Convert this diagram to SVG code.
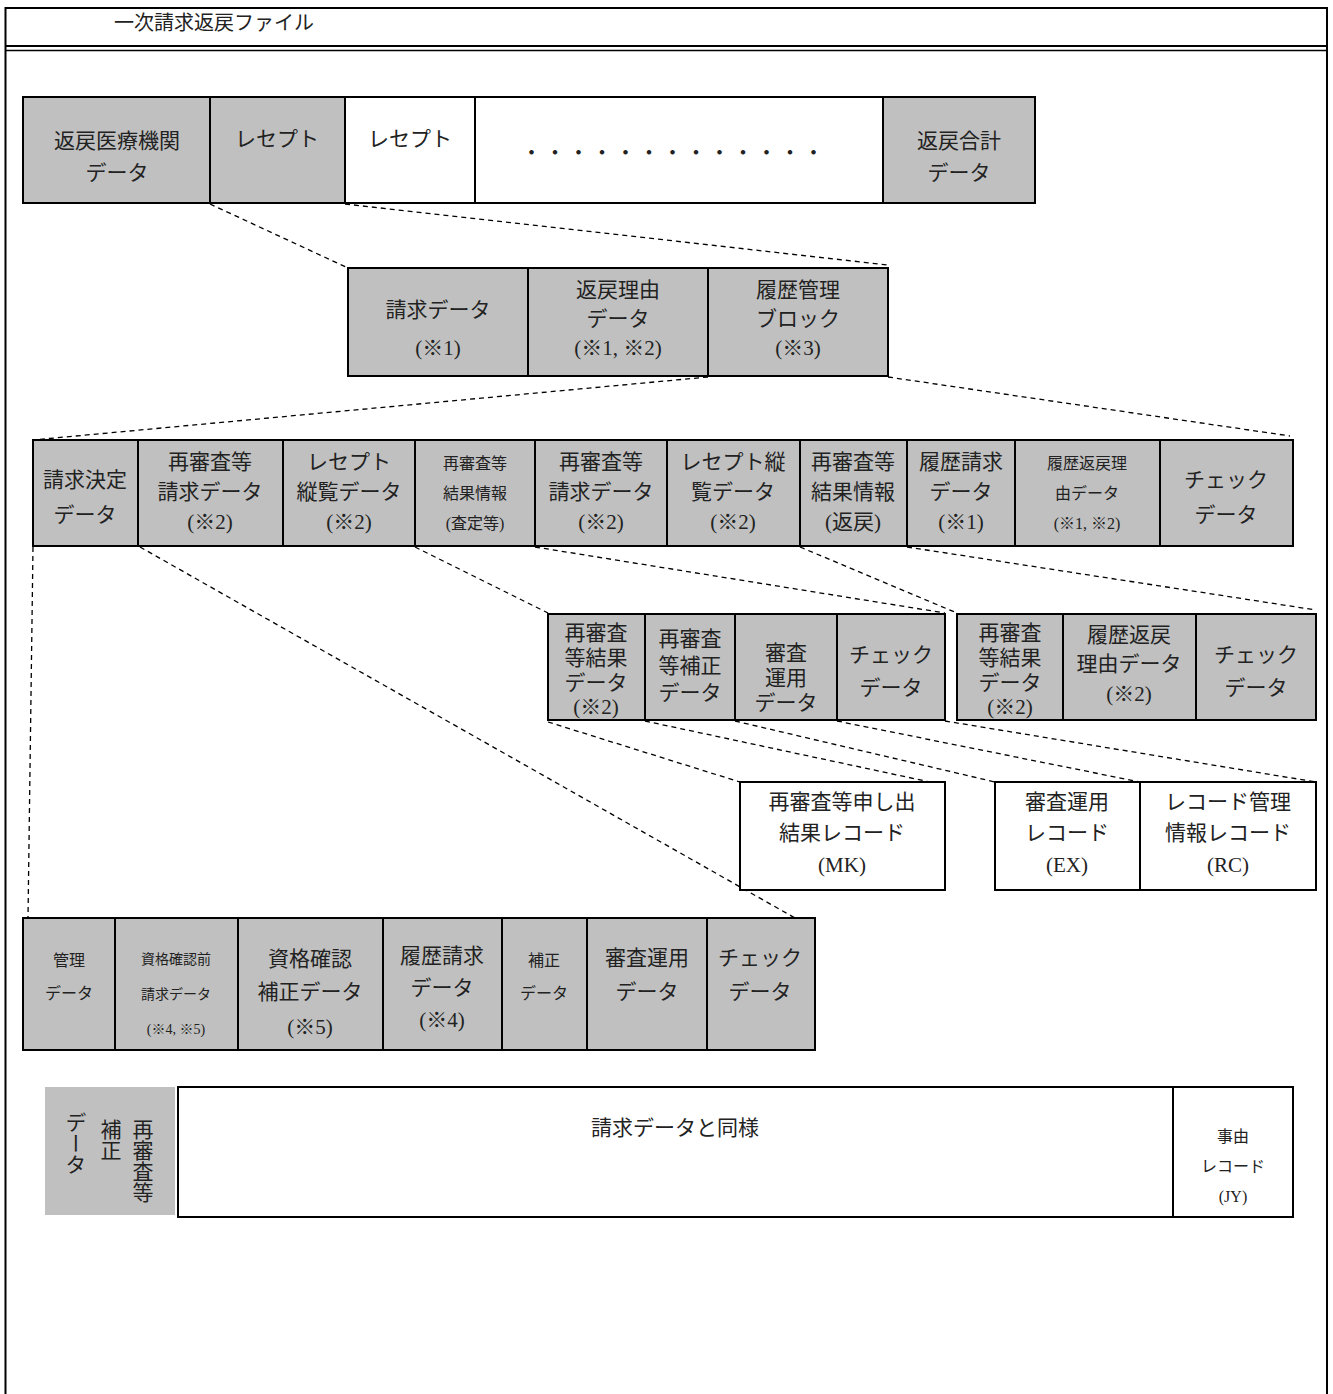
<svg xmlns="http://www.w3.org/2000/svg" width="1333" height="1394" viewBox="0 0 1333 1394">
<style>
.g{fill:#c0c0c0;stroke:#000;stroke-width:2}
.w{fill:#fff;stroke:#000;stroke-width:2}
.t{font-family:"Liberation Serif","Noto Sans CJK JP",serif;font-size:21px;fill:#222;text-anchor:middle}
.s{font-size:16px}
.xs{font-size:14px}
.c{fill:none;stroke:#000;stroke-width:1.3;stroke-dasharray:5,4}
.v{writing-mode:vertical-rl;text-anchor:start}
</style>
<rect width="1333" height="1394" fill="#fff"/>
<g id="frame">
<path d="M5.5,1400 V8 H1327 V1400" fill="none" stroke="#000" stroke-width="2"/>
<line x1="5" y1="46" x2="1327" y2="46" stroke="#000" stroke-width="2"/>
<line x1="5" y1="50.5" x2="1327" y2="50.5" stroke="#000" stroke-width="1.5"/>
<text class="t" x="214" y="30" style="font-size:20px">一次請求返戻ファイル</text>
</g>
<g id="connectors">
<line class="c" x1="210" y1="204" x2="348" y2="268"/>
<line class="c" x1="345" y1="204" x2="888" y2="265"/>
<line class="c" x1="708" y1="377" x2="33" y2="440"/>
<line class="c" x1="888" y1="377" x2="1290" y2="436"/>
<line class="c" x1="33" y1="547" x2="28" y2="918"/>
<line class="c" x1="140" y1="547" x2="795" y2="918"/>
<line class="c" x1="415" y1="547" x2="548" y2="613"/>
<line class="c" x1="535" y1="547" x2="945" y2="613"/>
<line class="c" x1="800" y1="547" x2="957" y2="613"/>
<line class="c" x1="907" y1="547" x2="1316" y2="610"/>
<line class="c" x1="548" y1="722" x2="740" y2="782"/>
<line class="c" x1="645" y1="721" x2="930" y2="782"/>
<line class="c" x1="735" y1="721" x2="995" y2="782"/>
<line class="c" x1="837" y1="721" x2="1140" y2="782"/>
<line class="c" x1="945" y1="721" x2="1316" y2="782"/>
</g>
<g id="row1">
<g id="n-hmed"><rect class="g" x="23" y="97" width="187" height="106"/><text class="t" x="117" y="148">返戻医療機関</text><text class="t" x="117" y="180">データ</text></g>
<g id="n-rece1"><rect class="g" x="210" y="97" width="135" height="106"/><text class="t" x="277" y="146">レセプト</text></g>
<g id="n-rece2"><rect class="w" x="345" y="97" width="130" height="106"/><text class="t" x="410" y="146">レセプト</text></g>
<g id="n-dots"><rect class="w" x="475" y="97" width="408" height="106"/><text class="t" x="521" y="160" style="text-anchor:start;letter-spacing:2.5px">・・・・・・・・・・・・・</text></g>
<g id="n-hgokei"><rect class="g" x="883" y="97" width="152" height="106"/><text class="t" x="959" y="148">返戻合計</text><text class="t" x="959" y="180">データ</text></g>
</g>
<g id="row2">
<g id="n-seikyu"><rect class="g" x="348" y="268" width="180" height="108"/><text class="t" x="438" y="317">請求データ</text><text class="t" x="438" y="355">(※1)</text></g>
<g id="n-henriyu"><rect class="g" x="528" y="268" width="180" height="108"/><text class="t" x="618" y="297">返戻理由</text><text class="t" x="618" y="326">データ</text><text class="t" x="618" y="355">(※1, ※2)</text></g>
<g id="n-rireki"><rect class="g" x="708" y="268" width="180" height="108"/><text class="t" x="798" y="297">履歴管理</text><text class="t" x="798" y="326">ブロック</text><text class="t" x="798" y="355">(※3)</text></g>
</g>
<g id="row3">
<g id="n-kettei"><rect class="g" x="33" y="440" width="105" height="106"/><text class="t" x="85" y="487">請求決定</text><text class="t" x="85" y="522">データ</text></g>
<g id="n-sai1"><rect class="g" x="138" y="440" width="145" height="106"/><text class="t" x="210" y="469">再審査等</text><text class="t" x="210" y="499">請求データ</text><text class="t" x="210" y="529">(※2)</text></g>
<g id="n-jukan1"><rect class="g" x="283" y="440" width="132" height="106"/><text class="t" x="349" y="469">レセプト</text><text class="t" x="349" y="499">縦覧データ</text><text class="t" x="349" y="529">(※2)</text></g>
<g id="n-kekka1"><rect class="g" x="415" y="440" width="120" height="106"/><text class="t s" x="475" y="469">再審査等</text><text class="t s" x="475" y="499">結果情報</text><text class="t s" x="475" y="529">(査定等)</text></g>
<g id="n-sai2"><rect class="g" x="535" y="440" width="132" height="106"/><text class="t" x="601" y="469">再審査等</text><text class="t" x="601" y="499">請求データ</text><text class="t" x="601" y="529">(※2)</text></g>
<g id="n-jukan2"><rect class="g" x="667" y="440" width="133" height="106"/><text class="t" x="733" y="469">レセプト縦</text><text class="t" x="733" y="499">覧データ</text><text class="t" x="733" y="529">(※2)</text></g>
<g id="n-kekka2"><rect class="g" x="800" y="440" width="107" height="106"/><text class="t" x="853" y="469">再審査等</text><text class="t" x="853" y="499">結果情報</text><text class="t" x="853" y="529">(返戻)</text></g>
<g id="n-rseikyu"><rect class="g" x="907" y="440" width="108" height="106"/><text class="t" x="961" y="469">履歴請求</text><text class="t" x="961" y="499">データ</text><text class="t" x="961" y="529">(※1)</text></g>
<g id="n-rhenriyu"><rect class="g" x="1015" y="440" width="145" height="106"/><text class="t s" x="1087" y="469">履歴返戻理</text><text class="t s" x="1087" y="499">由データ</text><text class="t s" x="1087" y="529">(※1, ※2)</text></g>
<g id="n-check1"><rect class="g" x="1160" y="440" width="133" height="106"/><text class="t" x="1226" y="487">チェック</text><text class="t" x="1226" y="522">データ</text></g>
</g>
<g id="row4a">
<g id="n-kekkad1"><rect class="g" x="548" y="614" width="97" height="106"/><text class="t" x="596" y="640">再審査</text><text class="t" x="596" y="665">等結果</text><text class="t" x="596" y="690">データ</text><text class="t" x="596" y="714">(※2)</text></g>
<g id="n-hosei1"><rect class="g" x="645" y="614" width="90" height="106"/><text class="t" x="690" y="646">再審査</text><text class="t" x="690" y="673">等補正</text><text class="t" x="690" y="700">データ</text></g>
<g id="n-unyo1"><rect class="g" x="735" y="614" width="102" height="106"/><text class="t" x="786" y="660">審査</text><text class="t" x="786" y="685">運用</text><text class="t" x="786" y="710">データ</text></g>
<g id="n-check2"><rect class="g" x="837" y="614" width="108" height="106"/><text class="t" x="891" y="662">チェック</text><text class="t" x="891" y="695">データ</text></g>
</g>
<g id="row4b">
<g id="n-kekkad2"><rect class="g" x="957" y="614" width="106" height="106"/><text class="t" x="1010" y="640">再審査</text><text class="t" x="1010" y="665">等結果</text><text class="t" x="1010" y="690">データ</text><text class="t" x="1010" y="714">(※2)</text></g>
<g id="n-rhenriyu2"><rect class="g" x="1063" y="614" width="133" height="106"/><text class="t" x="1129" y="642">履歴返戻</text><text class="t" x="1129" y="671">理由データ</text><text class="t" x="1129" y="701">(※2)</text></g>
<g id="n-check3"><rect class="g" x="1196" y="614" width="120" height="106"/><text class="t" x="1256" y="662">チェック</text><text class="t" x="1256" y="695">データ</text></g>
</g>
<g id="records">
<g id="n-mk"><rect class="w" x="740" y="782" width="205" height="108"/><text class="t" x="842" y="809">再審査等申し出</text><text class="t" x="842" y="840">結果レコード</text><text class="t" x="842" y="872">(MK)</text></g>
<g id="n-ex"><rect class="w" x="995" y="782" width="145" height="108"/><text class="t" x="1067" y="809">審査運用</text><text class="t" x="1067" y="840">レコード</text><text class="t" x="1067" y="872">(EX)</text></g>
<g id="n-rc"><rect class="w" x="1140" y="782" width="176" height="108"/><text class="t" x="1228" y="809">レコード管理</text><text class="t" x="1228" y="840">情報レコード</text><text class="t" x="1228" y="872">(RC)</text></g>
</g>
<g id="row5">
<g id="n-kanri"><rect class="g" x="23" y="918" width="92" height="132"/><text class="t s" x="69" y="966">管理</text><text class="t s" x="69" y="999">データ</text></g>
<g id="n-shikaku1"><rect class="g" x="115" y="918" width="123" height="132"/><text class="t xs" x="176" y="964">資格確認前</text><text class="t xs" x="176" y="999">請求データ</text><text class="t xs" x="176" y="1034">(※4, ※5)</text></g>
<g id="n-shikaku2"><rect class="g" x="238" y="918" width="145" height="132"/><text class="t" x="310" y="966">資格確認</text><text class="t" x="310" y="999">補正データ</text><text class="t" x="310" y="1034">(※5)</text></g>
<g id="n-rseikyu2"><rect class="g" x="383" y="918" width="119" height="132"/><text class="t" x="442" y="963">履歴請求</text><text class="t" x="442" y="995">データ</text><text class="t" x="442" y="1027">(※4)</text></g>
<g id="n-hosei2"><rect class="g" x="502" y="918" width="85" height="132"/><text class="t s" x="544" y="966">補正</text><text class="t s" x="544" y="999">データ</text></g>
<g id="n-unyo2"><rect class="g" x="587" y="918" width="120" height="132"/><text class="t" x="647" y="965">審査運用</text><text class="t" x="647" y="999">データ</text></g>
<g id="n-check4"><rect class="g" x="707" y="918" width="108" height="132"/><text class="t" x="760" y="965">チェック</text><text class="t" x="760" y="999">データ</text></g>
</g>
<g id="row6">
<g id="n-saihosei"><rect x="45" y="1087" width="130" height="128" fill="#c0c0c0"/><text class="t v" x="141" y="1119">再審査等</text><text class="t v" x="109" y="1119">補正</text><text class="t v" x="74" y="1112">データ</text></g>
<g id="n-doyo"><rect class="w" x="178" y="1087" width="995" height="130"/><text class="t" x="675" y="1135">請求データと同様</text></g>
<g id="n-jy"><rect class="w" x="1173" y="1087" width="120" height="130"/><text class="t s" x="1233" y="1142">事由</text><text class="t s" x="1233" y="1172">レコード</text><text class="t s" x="1233" y="1202">(JY)</text></g>
</g>
</svg>
